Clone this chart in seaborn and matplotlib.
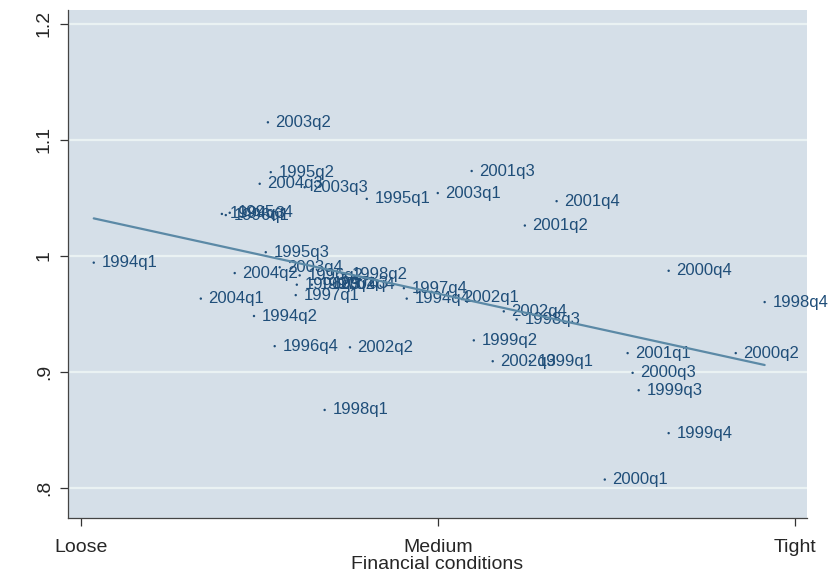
import matplotlib
matplotlib.use("Agg")
import matplotlib.pyplot as plt
import seaborn as sns
import pandas as pd

# Quarter labels and their financial-conditions / ratio coordinates
quarters = [
    "1994q1", "1994q2", "1994q3", "1994q4",
    "1995q1", "1995q2", "1995q3", "1995q4",
    "1996q1", "1996q2", "1996q3", "1996q4",
    "1997q1", "1997q2", "1997q3", "1997q4",
    "1998q1", "1998q2", "1998q3", "1998q4",
    "1999q1", "1999q2", "1999q3", "1999q4",
    "2000q1", "2000q2", "2000q3", "2000q4",
    "2001q1", "2001q2", "2001q3", "2001q4",
    "2002q1", "2002q2", "2002q3", "2002q4",
    "2003q1", "2003q2", "2003q3", "2003q4",
    "2004q1", "2004q2", "2004q3", "2004q4",
]
fin_conditions = [
    0.036, 0.485, 0.395, 0.913,
    0.801, 0.532, 0.518, 0.417,
    0.406, 0.613, 0.605, 0.543,
    0.602, 0.647, 0.683, 0.905,
    0.683, 0.737, 1.221, 1.916,
    1.258, 1.101, 1.563, 1.647,
    1.468, 1.835, 1.546, 1.647,
    1.532, 1.244, 1.095, 1.333,
    1.050, 0.754, 1.154, 1.185,
    1.000, 0.524, 0.627, 0.557,
    0.336, 0.431, 0.501, 0.703,
]
ratio = [
    0.994, 0.948, 1.036, 0.963,
    1.049, 1.072, 1.003, 1.037,
    1.035, 0.983, 0.975, 0.922,
    0.966, 0.975, 0.976, 0.972,
    0.867, 0.984, 0.945, 0.960,
    0.909, 0.927, 0.884, 0.847,
    0.807, 0.916, 0.899, 0.987,
    0.916, 1.026, 1.073, 1.047,
    0.964, 0.921, 0.909, 0.952,
    1.054, 1.115, 1.059, 0.990,
    0.963, 0.985, 1.062, 0.975,
]

x_ticks = [0, 1, 2]
x_tick_labels = ["Loose", "Medium", "Tight"]
y_ticks = [0.8, 0.9, 1.0, 1.1, 1.2]
y_tick_labels = [".8", ".9", "1", "1.1", "1.2"]

df = pd.DataFrame({"quarter": quarters, "fc": fin_conditions, "ratio": ratio})

navy = "#1F4E79"
fit_color = "#5B89A6"
panel = "#D5DFE8"
grid = "#EAF2F3"

sns.set_style("white")
plt.rcParams["font.family"] = ["Liberation Sans", "DejaVu Sans"]

fig = plt.figure(figsize=(8.3, 5.76), dpi=100)
ax = fig.add_axes([0.082, 0.101, 0.890, 0.882])
ax.set_facecolor(panel)

sns.scatterplot(data=df, x="fc", y="ratio", ax=ax, s=3, color=navy,
                edgecolor="none", linewidth=0, zorder=3)
for q, xv, yv in zip(df["quarter"], df["fc"], df["ratio"]):
    ax.annotate(q, (xv, yv), xytext=(5.5, 0), textcoords="offset points",
                ha="left", va="center", fontsize=12, color=navy, zorder=4)

sns.regplot(data=df, x="fc", y="ratio", ax=ax, scatter=False, ci=None,
            truncate=True, line_kws={"color": fit_color, "lw": 1.6, "zorder": 5})

ax.set_xlim(-0.036, 2.034)
ax.set_ylim(0.774, 1.212)
ax.set_xticks(x_ticks)
ax.set_xticklabels(x_tick_labels, fontsize=14)
ax.set_yticks(y_ticks)
ax.set_yticklabels(y_tick_labels, fontsize=14, rotation=90, va="center")

for yv in y_ticks:
    ax.axhline(yv, color=grid, lw=1.6, zorder=1)

ax.tick_params(axis="both", direction="out", length=6, width=0.9,
               color="#333333", pad=5, bottom=True, left=True)
ax.tick_params(axis="x", pad=9)

for side in ["top", "right"]:
    ax.spines[side].set_visible(False)
for side in ["left", "bottom"]:
    ax.spines[side].set_color("#444444")
    ax.spines[side].set_linewidth(0.9)

ax.set_xlabel("Financial conditions", fontsize=14, labelpad=0)
ax.set_ylabel("")

fig.savefig("out.png", dpi=100)
